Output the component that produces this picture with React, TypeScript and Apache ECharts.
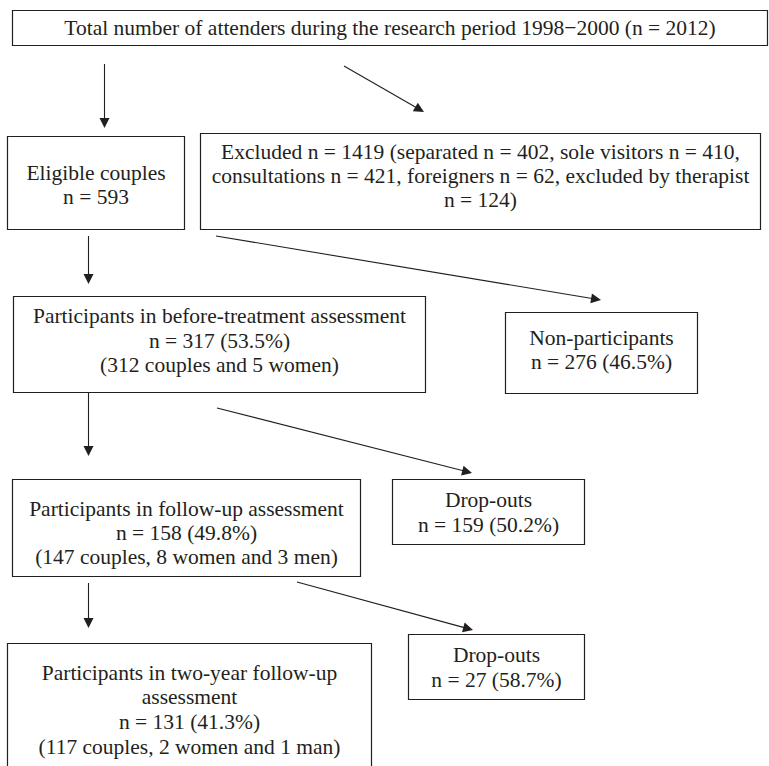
import React, { useEffect, useRef } from 'react';
import * as echarts from 'echarts';

// ---- Flowchart content (texts) ----
const totalLines = ['Total number of attenders during the research period 1998\u22122000 (n = 2012)'];
const eligibleLines = ['Eligible couples', 'n = 593'];
const excludedLines = [
  'Excluded n = 1419 (separated n = 402, sole visitors n = 410,',
  'consultations n = 421, foreigners n = 62, excluded by therapist',
  'n = 124)',
];
const beforeLines = ['Participants in before-treatment assessment', 'n = 317 (53.5%)', '(312 couples and 5 women)'];
const nonPartLines = ['Non-participants', 'n = 276 (46.5%)'];
const followLines = ['Participants in follow-up assessment', 'n = 158 (49.8%)', '(147 couples, 8 women and 3 men)'];
const drop1Lines = ['Drop-outs', 'n = 159 (50.2%)'];
const drop2Lines = ['Drop-outs', 'n = 27 (58.7%)'];
const twoYearLines = [
  'Participants in two-year follow-up',
  'assessment',
  'n = 131 (41.3%)',
  '(117 couples, 2 women and 1 man)',
];

// ---- Layout (pixel positions) ----
const boxLayout = [
  { lines: totalLines, x: 12.5, y: 10.5, w: 755, h: 35, ly: [28] },
  { lines: eligibleLines, x: 7.5, y: 136.5, w: 177, h: 93, ly: [173, 197] },
  { lines: excludedLines, x: 200.5, y: 133.5, w: 560, h: 96, ly: [152, 176, 200] },
  { lines: beforeLines, x: 13.5, y: 296.5, w: 412, h: 96, ly: [316, 341, 365] },
  { lines: nonPartLines, x: 505.5, y: 312.5, w: 192, h: 81, ly: [338, 362] },
  { lines: followLines, x: 12.5, y: 479.5, w: 348, h: 97, ly: [509, 533, 557] },
  { lines: drop1Lines, x: 392.5, y: 479.5, w: 192, h: 65, ly: [500, 525] },
  { lines: drop2Lines, x: 408.5, y: 634.5, w: 176, h: 65, ly: [655, 680] },
  { lines: twoYearLines, x: 7.5, y: 643.5, w: 364, h: 140, ly: [673, 697, 722, 747] },
];

const arrowLayout = [
  [104.5, 64, 104.5, 128],
  [344, 66, 424, 112],
  [88.5, 236, 88.5, 284],
  [216, 236, 601, 300],
  [88.5, 393, 88.5, 456],
  [217, 408, 472, 473],
  [88.5, 583, 88.5, 628],
  [297, 582, 473, 630],
];

const INK = '#231f20';
const FONT = '"Liberation Serif", "Times New Roman", serif';
const FONT_SIZE = 21.5;

function buildGraphic() {
  const els: any[] = [];
  boxLayout.forEach((b) => {
    els.push({
      type: 'rect',
      shape: { x: b.x, y: b.y, width: b.w, height: b.h },
      style: { fill: '#ffffff', stroke: INK, lineWidth: 1.2 },
    });
    const cx = b.x + b.w / 2;
    b.lines.forEach((t, i) => {
      els.push({
        type: 'text',
        x: cx,
        y: b.ly[i],
        style: {
          text: t,
          fill: INK,
          fontFamily: FONT,
          fontSize: FONT_SIZE,
          textAlign: 'center',
          textVerticalAlign: 'middle',
          align: 'center',
          verticalAlign: 'middle',
        },
      });
    });
  });
  const headLen = 10;
  const headHalf = 5;
  arrowLayout.forEach(([x1, y1, x2, y2]) => {
    const dx = x2 - x1;
    const dy = y2 - y1;
    const len = Math.sqrt(dx * dx + dy * dy);
    const ux = dx / len;
    const uy = dy / len;
    const bx = x2 - ux * headLen;
    const by = y2 - uy * headLen;
    els.push({
      type: 'line',
      shape: { x1, y1, x2: bx + ux, y2: by + uy },
      style: { stroke: INK, lineWidth: 1.1 },
    });
    els.push({
      type: 'polygon',
      shape: {
        points: [
          [x2, y2],
          [bx - uy * headHalf, by + ux * headHalf],
          [bx + uy * headHalf, by - ux * headHalf],
        ],
      },
      style: { fill: INK },
    });
  });
  return els;
}

export default function App() {
  const ref = useRef<HTMLDivElement>(null);
  useEffect(() => {
    document.body.style.margin = '0';
    if (!ref.current) return;
    const chart = echarts.init(ref.current, null, { renderer: 'svg' });
    chart.setOption({
      animation: false,
      backgroundColor: '#ffffff',
      series: [],
      graphic: { elements: buildGraphic() },
    });
    return () => chart.dispose();
  }, []);
  return <div ref={ref} style={{ width: 769, height: 766 }} />;
}
